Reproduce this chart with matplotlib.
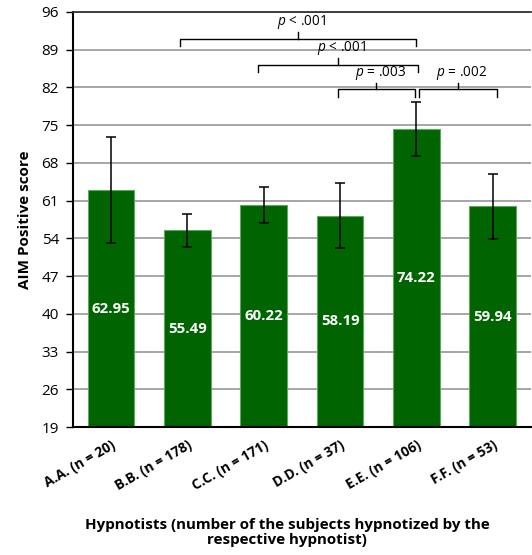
import matplotlib.pyplot as plt
import numpy as np

# hypnotist groups, mean AIM positive score and error half-width
hypnotists = ['A.A. (n = 20)', 'B.B. (n = 178)', 'C.C. (n = 171)',
              'D.D. (n = 37)', 'E.E. (n = 106)', 'F.F. (n = 53)']
scores = [62.95, 55.49, 60.22, 58.19, 74.22, 59.94]
errors = [9.8, 3.0, 3.3, 6.0, 5.0, 6.0]

# pairwise comparisons: (left x, right x, bracket height, label)
comparisons = [
    (0.9, 4.0, 91.0, '$p$ < .001'),
    (1.93, 4.02, 86.2, '$p$ < .001'),
    (2.97, 3.98, 81.7, '$p$ = .003'),
    (4.04, 5.05, 81.7, '$p$ = .002'),
]

plt.rcParams['font.family'] = ['Open Sans', 'DejaVu Sans']
plt.rcParams['mathtext.fontset'] = 'custom'
plt.rcParams['mathtext.it'] = 'Open Sans:italic'
plt.rcParams['mathtext.rm'] = 'Open Sans'

fig = plt.figure(figsize=(5.32, 5.55), dpi=100)
ax = fig.add_axes([0.137, 0.2306, 0.861, 0.7478])

x = np.arange(len(hypnotists))
bars = ax.bar(x, np.array(scores) - 19, bottom=19, width=0.61,
              color='#006400', edgecolor='#5da65d', linewidth=0.8, zorder=2)
ax.errorbar(x, scores, yerr=errors, fmt='none', ecolor='black',
            elinewidth=1.1, capsize=3.3, capthick=1.1, zorder=3)

for xi, s in zip(x, scores):
    ax.text(xi, (s + 19) / 2, f'{s:.2f}', ha='center', va='center',
            color='white', fontsize=10.8, fontweight='bold', zorder=4)

# brackets with a centre notch
for x0, x1, h, label in comparisons:
    xm = (x0 + x1) / 2
    ax.plot([x0, x0, x1, x1], [h - 1.4, h, h, h - 1.4], color='black',
            lw=1.0, zorder=4, clip_on=False)
    ax.plot([xm, xm], [h, h + 1.2], color='black', lw=1.0, zorder=4)
    ax.text(xm + 0.05, h + 1.4, label, ha='center', va='bottom', fontsize=9.8)

ax.set_xlim(-0.5, 5.5)
ax.set_ylim(19, 96)
ax.set_yticks(np.arange(19, 97, 7))
ax.tick_params(axis='y', labelsize=11, length=5, width=1.0, direction='out', pad=5)
ax.tick_params(axis='x', length=0, pad=8)
ax.set_xticks(x)
ax.set_xticklabels(hypnotists, rotation=30, ha='right', rotation_mode='anchor',
                   fontsize=9.9, fontweight='bold')
ax.yaxis.grid(True, color='#a6a6a6', lw=1.4, zorder=0)
ax.set_axisbelow(True)

for side in ['left', 'bottom']:
    ax.spines[side].set_linewidth(1.5)
    ax.spines[side].set_color('black')
ax.spines['top'].set_color('#333333')
ax.spines['top'].set_linewidth(1.3)
ax.spines['right'].set_visible(False)

ax.set_ylabel('AIM Positive score', fontsize=11, fontweight='bold', labelpad=7)
fig.text(0.54, 0.04, 'Hypnotists (number of the subjects hypnotized by the\nrespective hypnotist)',
         ha='center', va='center', fontsize=10.9, fontweight='bold', linespacing=1.1)

fig.savefig('out.png', dpi=100)
